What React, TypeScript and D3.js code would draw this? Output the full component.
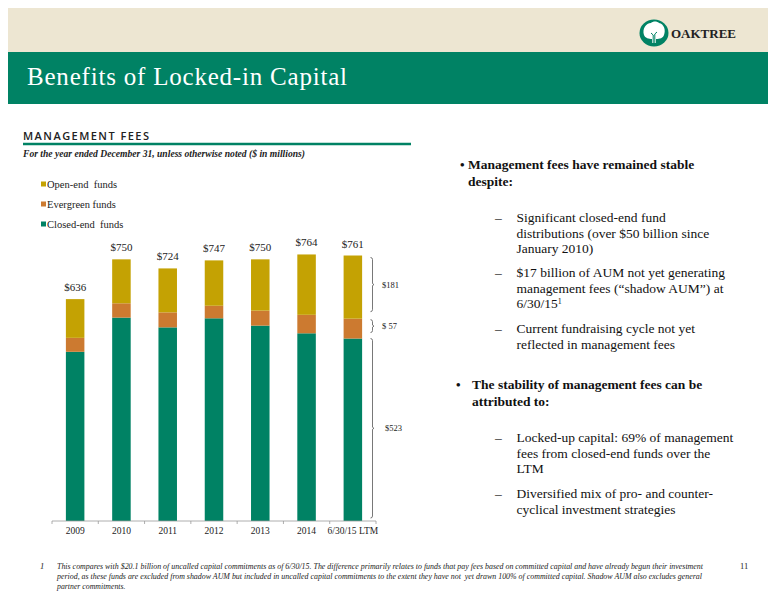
import { useRef, useEffect } from "react";
import * as d3 from "d3";

const categories = ["2009", "2010", "2011", "2012", "2013", "2014", "6/30/15 LTM"];
const closedEnd = [485, 583, 555, 581, 560, 538, 523];
const evergreen = [40, 41, 43, 36, 43, 53, 57];
const openEnd = [111, 126, 126, 130, 147, 173, 181];
const totalLabels = ["$636", "$750", "$724", "$747", "$750", "$764", "$761"];
const seriesNames = ["Closed-end  funds", "Evergreen funds", "Open-end  funds"];
const seriesColors = ["#008264", "#CC7A30", "#C4A203"];
const bracketLabels = ["$523", "$ 57", "$181"];

const bullets = [
    { lines: ["Management fees have remained stable", "despite:"], y: 169, bx: 460, tx: 468 },
    { lines: ["The stability of management fees can be", "attributed to:"], y: 389, bx: 456, tx: 472 },
];
const subBullets = [
    { lines: ["Significant closed-end fund", "distributions (over $50 billion since", "January 2010)"], y: 222 },
    { lines: ["$17 billion of AUM not yet generating", "management fees (\u201Cshadow AUM\u201D) at", "6/30/15"], y: 277, sup: true },
    { lines: ["Current fundraising cycle not yet", "reflected in management fees"], y: 333 },
    { lines: ["Locked-up capital: 69% of management", "fees from closed-end funds over the", "LTM"], y: 442 },
    { lines: ["Diversified mix of pro- and counter-", "cyclical investment strategies"], y: 498 },
];
const footnote = [
    "This compares with $20.1 billion of uncalled capital commitments as of 6/30/15. The difference primarily relates to funds that pay fees based on committed capital and have already begun their investment",
    "period, as these funds are excluded from shadow AUM but included in uncalled capital commitments to the extent they have not  yet drawn 100% of committed capital. Shadow AUM also excludes general",
    "partner commitments.",
];

const SERIF = "'Liberation Serif', 'Times New Roman', serif";

export default function App() {
    const svgRef = useRef<SVGSVGElement | null>(null);

    useEffect(() => {
        if (!svgRef.current) return;
        const svg = d3.select(svgRef.current);
        svg.selectAll("*").remove();

        // header
        svg.append("rect").attr("x", 8).attr("y", 8).attr("width", 760).attr("height", 44).attr("fill", "#EDE6D2");
        svg.append("rect").attr("x", 8).attr("y", 52).attr("width", 760).attr("height", 52).attr("fill", "#008264");
        svg.append("text").attr("x", 27).attr("y", 85).attr("fill", "#fff")
            .style("font-family", SERIF).style("font-size", "25px").style("font-weight", 300)
            .attr("textLength", 320).attr("lengthAdjust", "spacing")
            .text("Benefits of Locked-in Capital");

        // logo
        const logo = svg.append("g").attr("transform", "translate(654,33)");
        logo.append("ellipse").attr("rx", 14.5).attr("ry", 13.5).attr("fill", "#008264");
        logo.append("path")
            .attr("d", "M-10,2 C-12,-4 -8,-10 -3,-10 C-1,-12 3,-12 5,-10 C10,-9 12,-3 10,2 C9,5 6,6 2,6 L2,10 L-2,10 L-2,6 C-5,6 -9,5 -10,2 Z")
            .attr("fill", "#fff");
        logo.append("path").attr("d", "M-0.8,10 L-0.8,2 L-3,0 M0.8,10 L0.8,1 L3,-1").attr("stroke", "#008264").attr("stroke-width", 1).attr("fill", "none");
        svg.append("text").attr("x", 671).attr("y", 38).attr("fill", "#222")
            .style("font-family", SERIF).style("font-size", "13px").style("font-weight", "bold")
            .attr("textLength", 65).attr("lengthAdjust", "spacing")
            .text("OAKTREE");

        // section title
        svg.append("text").attr("x", 23).attr("y", 140).attr("fill", "#222")
            .style("font-family", "'Open Sans', sans-serif").style("font-size", "11px").style("font-weight", 600)
            .attr("textLength", 126).attr("lengthAdjust", "spacing")
            .text("MANAGEMENT FEES");
        svg.append("line").attr("x1", 23).attr("x2", 411).attr("y1", 144).attr("y2", 144)
            .attr("stroke", "#008264").attr("stroke-width", 2.5);
        svg.append("text").attr("x", 23).attr("y", 156.5).attr("fill", "#222")
            .style("font-family", SERIF).style("font-size", "9.5px").style("font-style", "italic").style("font-weight", "bold")
            .attr("textLength", 282).attr("lengthAdjust", "spacingAndGlyphs")
            .text("For the year ended December 31, unless otherwise noted ($ in millions)");

        // chart
        const x = d3.scaleBand<string>().domain(categories).range([52, 376]).paddingInner(0.6).paddingOuter(0.3);
        const y = d3.scaleLinear().domain([0, 800]).range([521, 241.9]);

        const rows = categories.map((c, i) => ({ cat: c, closed: closedEnd[i], ever: evergreen[i], open: openEnd[i] }));
        const keys = ["closed", "ever", "open"];
        const stack = d3.stack<any>().keys(keys)(rows);

        svg.append("g").selectAll("g").data(stack).enter().append("g")
            .attr("fill", (_d, i) => seriesColors[i])
            .selectAll("rect").data(d => d).enter().append("rect")
            .attr("x", d => x(d.data.cat)!)
            .attr("width", x.bandwidth())
            .attr("y", d => y(d[1]))
            .attr("height", d => y(d[0]) - y(d[1]));

        // totals
        svg.append("g").selectAll("text").data(rows).enter().append("text")
            .attr("x", d => x(d.cat)! + x.bandwidth() / 2)
            .attr("y", d => y(d.closed + d.ever + d.open) - 8)
            .attr("text-anchor", "middle").attr("fill", "#222")
            .style("font-family", SERIF).style("font-size", "11px")
            .text((_d, i) => totalLabels[i]);

        // axis
        const axisG = svg.append("g").attr("stroke", "#999").attr("stroke-width", 0.8);
        axisG.append("line").attr("x1", 52).attr("x2", 376).attr("y1", 521).attr("y2", 521);
        const step = x.step();
        d3.range(categories.length + 1).forEach(i => {
            const tx = 52 + i * step;
            axisG.append("line").attr("x1", tx).attr("x2", tx).attr("y1", 521).attr("y2", 524);
        });
        svg.append("g").selectAll("text").data(categories).enter().append("text")
            .attr("x", d => x(d)! + x.bandwidth() / 2)
            .attr("y", 533.5)
            .attr("text-anchor", "middle").attr("fill", "#222")
            .style("font-family", SERIF).style("font-size", "9.5px")
            .text(d => d);

        // legend
        const legendOrder = [2, 1, 0];
        legendOrder.forEach((s, i) => {
            const ly = 184.5 + i * 20;
            svg.append("rect").attr("x", 41).attr("y", ly - 3).attr("width", 5).attr("height", 5).attr("fill", seriesColors[s]);
            svg.append("text").attr("x", 47).attr("y", ly + 3.5).attr("fill", "#222")
                .style("font-family", SERIF).style("font-size", "10.5px").style("white-space", "pre")
                .text(seriesNames[s]);
        });

        // brackets for last bar
        const last = stack.map(s => s[s.length - 1]);
        const insets = [[0, -3], [1, -6], [2, -7]];
        const bx = 372.5;
        last.forEach((seg, i) => {
            const y0 = y(seg[1]) + insets[i][0];
            const y1 = y(seg[0]) + insets[i][1];
            const ym = (y0 + y1) / 2;
            svg.append("path")
                .attr("d", `M${bx - 2},${y0} Q${bx},${y0} ${bx},${y0 + 2} V${ym - 1} L${bx + 1.5},${ym} L${bx},${ym + 1} V${y1 - 2} Q${bx},${y1} ${bx - 2},${y1}`)
                .attr("fill", "none").attr("stroke", "#555").attr("stroke-width", 0.8);
            svg.append("text").attr("x", i === 0 ? 385 : 382).attr("y", ym + 3)
                .attr("fill", "#222")
                .style("font-family", SERIF).style("font-size", "8.5px").style("white-space", "pre")
                .text(bracketLabels[i]);
        });

        // right column
        bullets.forEach(b => {
            svg.append("text").attr("x", b.bx).attr("y", b.y).attr("fill", "#111")
                .style("font-family", SERIF).style("font-size", "13px").style("font-weight", "bold")
                .text("\u2022");
            b.lines.forEach((l, i) => {
                svg.append("text").attr("x", b.tx).attr("y", b.y + i * 17).attr("fill", "#111")
                    .style("font-family", SERIF).style("font-size", "13.5px").style("font-weight", "bold")
                    .text(l);
            });
        });
        subBullets.forEach(b => {
            svg.append("text").attr("x", 495).attr("y", b.y).attr("fill", "#111")
                .style("font-family", SERIF).style("font-size", "13.5px")
                .text("\u2013");
            b.lines.forEach((l, i) => {
                const t = svg.append("text").attr("x", 516.5).attr("y", b.y + i * 15.7).attr("fill", "#111")
                    .style("font-family", SERIF).style("font-size", "13.5px")
                    .text(l);
                if (b.sup && i === b.lines.length - 1) {
                    t.append("tspan").attr("dy", -4).style("font-size", "8px").text("1");
                }
            });
        });

        // footnote
        svg.append("text").attr("x", 40).attr("y", 569).attr("fill", "#222")
            .style("font-family", SERIF).style("font-size", "8.5px").style("font-style", "italic").text("1");
        const fnLengths = [646, 645, 0];
        footnote.forEach((l, i) => {
            const t = svg.append("text").attr("x", 57).attr("y", 569 + i * 10).attr("fill", "#222")
                .style("font-family", SERIF).style("font-size", "7.8px").style("font-style", "italic").style("white-space", "pre")
                .text(l);
            if (fnLengths[i]) t.attr("textLength", fnLengths[i]).attr("lengthAdjust", "spacingAndGlyphs");
        });
        svg.append("text").attr("x", 740).attr("y", 569).attr("fill", "#222")
            .style("font-family", SERIF).style("font-size", "8.5px").text("11");
    }, []);

    return (
        <svg ref={svgRef} width={776} height={600} style={{ position: "absolute", left: 0, top: 0, background: "#fff" }} />
    );
}
